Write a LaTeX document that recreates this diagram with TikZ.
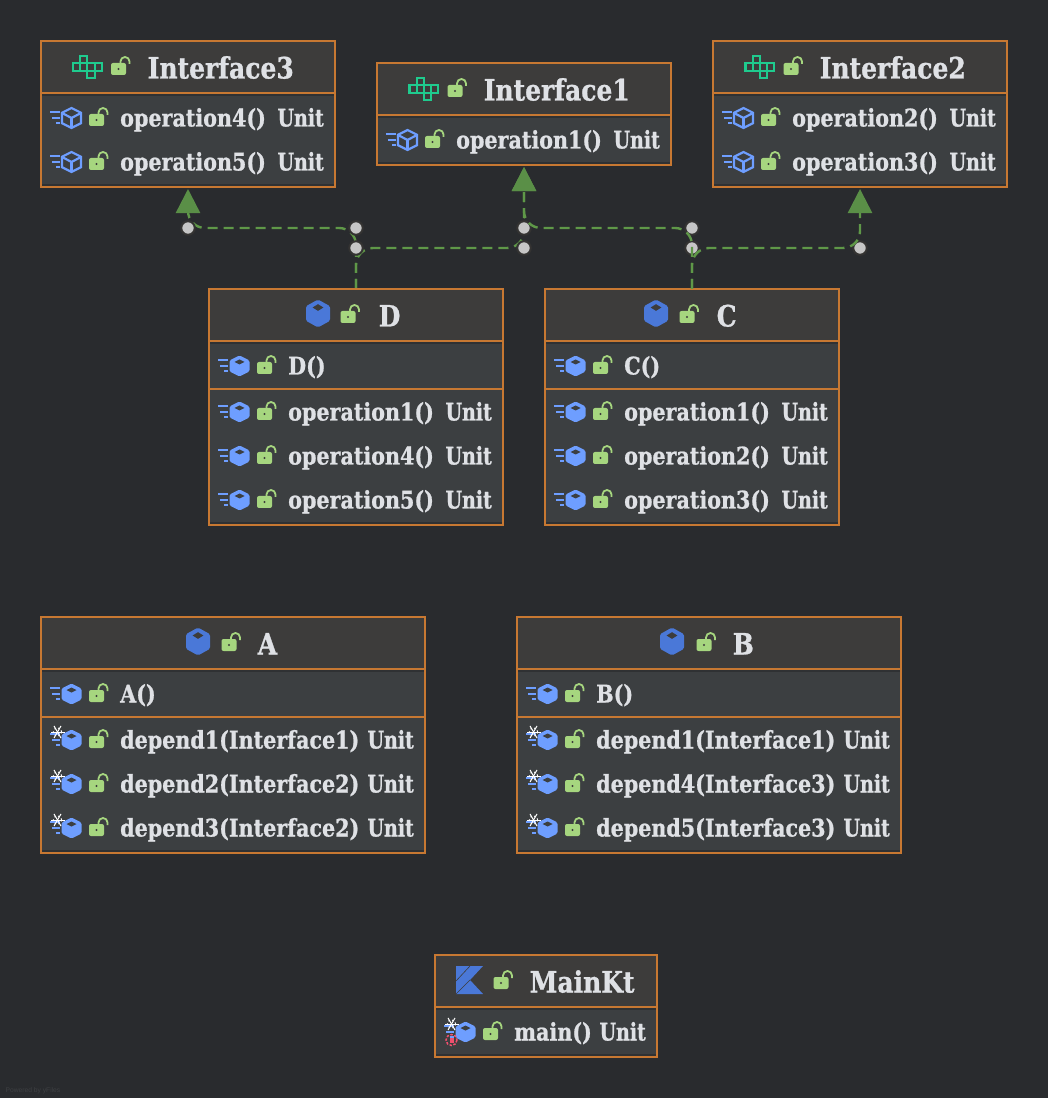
\documentclass[tikz,border=0pt]{standalone}
\usepackage{fontspec}
\setmainfont{DejaVu Serif}[FakeStretch=0.85,BoldFeatures={FakeBold=0.9}]
\newfontfamily\unitfont{DejaVu Serif}[FakeStretch=0.78,BoldFeatures={FakeBold=0.9}]
\setsansfont{Liberation Sans}
\usetikzlibrary{arrows.meta, backgrounds}
\definecolor{canvas}{HTML}{292B2E}
\definecolor{headfill}{HTML}{3D3C3B}
\definecolor{bodyfill}{HTML}{3C3F41}
\definecolor{stripe}{HTML}{2F3133}
\definecolor{boxline}{HTML}{C77832}
\definecolor{edgeline}{HTML}{5F9848}
\definecolor{edgetip}{HTML}{5A8F47}
\definecolor{labeltext}{HTML}{DFE1E5}
\definecolor{lockgreen}{HTML}{A6D67F}
\definecolor{ifacegreen}{HTML}{1FCB8E}
\definecolor{classblue}{HTML}{4A78D8}
\definecolor{methodblue}{HTML}{6E9EFF}
\definecolor{debugred}{HTML}{F0506E}
\begin{document}
\begin{tikzpicture}[x=0.01cm,y=-0.01cm,
	classbox/.style={draw=boxline,fill=stripe,line width=0.024cm,inner sep=0pt,outer sep=0pt},
	boxrule/.style={draw=boxline,line width=0.024cm},
	headtext/.style={anchor=base west,xshift=-0.01cm,inner sep=0pt,text=labeltext,font=\fontsize{8.37}{10}\selectfont\bfseries},
	rowtext/.style={anchor=base west,inner sep=0pt,text=labeltext,font=\fontsize{6.91}{8}\selectfont\bfseries},
	unittext/.style={anchor=base east,inner sep=0pt,text=labeltext,font=\fontsize{6.91}{8}\selectfont\unitfont\bfseries},
	bendpoint/.style={circle,fill=gray!45!white,draw=black!15!headfill,line width=0.02cm,minimum size=0.135cm,inner sep=0pt},
	relation/.style={draw=edgeline,line width=0.024cm,dash pattern=on 0.1cm off 0.06cm,rounded corners=0.17cm,
		-{Triangle[width=0.24cm,length=0.24cm,fill=edgetip,color=edgetip]},shorten >=0.02cm}]
	%Icons
	\newcommand{\iconlock}[2]{
		\begin{scope}[shift={(#1,#2)}]
			\draw[lockgreen,line width=0.018cm] (2,-5) -- (2,-7.5) arc (180:360:4.5) -- (11,-5);
			\fill[lockgreen,rounded corners=0.02cm] (-7.5,-6) rectangle (7.5,6);
			\fill[headfill] (0,0) circle (1.2);
		\end{scope}
	}
	\newcommand{\iconinterface}[2]{
		\begin{scope}[shift={(#1,#2)},ifacegreen,line width=0.021cm]
			\draw (-7.3,-11) rectangle (-0.1,-3.7);
			\foreach \cx in {-14.5,-7.3,-0.1,7.1} {
				\draw (\cx,-3.7) rectangle ({\cx+7.2},3.6);
			}
			\draw (-0.1,3.6) rectangle (7.1,11);
		\end{scope}
	}
	\newcommand{\hexpath}{(0,-10.5) -- (10,-5.5) -- (10,5.5) -- (0,10.5) -- (-10,5.5) -- (-10,-5.5) -- cycle}
	\newcommand{\iconclass}[2]{
		\begin{scope}[shift={(#1,#2)},xscale=1.2,yscale=1.33]
			\fill[classblue,rounded corners=0.015cm] \hexpath;
			\fill[headfill] (0,-7) -- (4.5,-4.5) -- (0,-2) -- (-4.5,-4.5) -- cycle;
		\end{scope}
	}
	\newcommand{\iconspeed}[2]{
		\begin{scope}[shift={(#1,#2)},methodblue,line width=0.02cm]
			\draw (-21.5,-6) -- (-11.5,-6);
			\draw (-19.5,0) -- (-11.5,0);
			\draw (-15.5,5) -- (-11.5,5);
		\end{scope}
	}
	\newcommand{\iconcube}[2]{
		\iconspeed{#1}{#2}
		\begin{scope}[shift={(#1,#2)},methodblue,line width=0.022cm]
			\draw [scale=0.95] \hexpath;
			\draw (-9.5,-5) -- (0,0) -- (9.5,-5);
			\draw (0,0) -- (0,10);
		\end{scope}
	}
	\newcommand{\iconmethod}[2]{
		\iconspeed{#1}{#2}
		\begin{scope}[shift={(#1,#2)}]
			\fill[methodblue,rounded corners=0.015cm] \hexpath;
			\fill[bodyfill] (0,-6.5) -- (5,-4) -- (0,-1.5) -- (-5,-4) -- cycle;
		\end{scope}
	}
	\newcommand{\iconstatic}[2]{
		\iconmethod{#1}{#2}
		\begin{scope}[shift={(#1-14,#2-8)},white,line width=0.01cm]
			\foreach \ang in {0,60,120} {
				\draw (\ang:7) -- (\ang+180:7);
			}
			\draw[dash pattern=on 0.015cm off 0.025cm] (0,0) circle (4.2);
		\end{scope}
	}
	\newcommand{\iconmain}[2]{
		\iconstatic{#1}{#2}
		\begin{scope}[shift={(#1-14,#2+8)}]
			\draw[debugred,line width=0.015cm,dash pattern=on 0.025cm off 0.015cm] (0,0) circle (5.5);
			\fill[debugred] (-2,-2.5) rectangle (2,2.5);
		\end{scope}
	}
	%Rows and boxes
	\newcommand{\umlclass}[6]{
		\node [classbox,minimum width={(#4-#2)*0.01cm},minimum height={(#6-#3)*0.01cm}] (#1) at ({(#2+#4)/2},{(#3+#6)/2}) {};
		\fill[headfill] (#2+1,#3+1) rectangle (#4-1,#5);
		\fill[bodyfill] (#2+1,#5+3) rectangle (#4-1,#6-3);
		\draw[boxrule] (#2,#5) -- (#4,#5);
	}
	\newcommand{\umlrow}[5]{
		#1{#2+30.5}{#3}
		\iconlock{#2+55.5}{#3+2}
		\node [rowtext] (#4) at (#2+78.5,#3+8.5) {#5};
	}
	\newcommand{\umlunit}[3]{
		\node [unittext] (#2) at (#1-10.5,#3+8.5) {Unit};
	}
	%Background
	\useasboundingbox (0,0) rectangle (1048,1098);
	\begin{scope}[on background layer]
		\fill[canvas] (0,0) rectangle (1048,1098);
	\end{scope}
	%Interface3
	\umlclass{interfaceThree}{41}{41}{335}{93}{187}
	\iconinterface{87.5}{67}
	\iconlock{118.5}{69}
	\node [headtext] (interfaceThreeName) at (148,78.5) {Interface3};
	\foreach \y/\nm/\txt in {118/opFourA/{operation4()},162/opFiveA/{operation5()}} {
		\umlrow{\iconcube}{41}{\y}{\nm}{\txt}
		\umlunit{335}{\nm Unit}{\y}
	}
	%Interface1
	\umlclass{interfaceOne}{377}{63}{671}{115}{165}
	\iconinterface{424}{89}
	\iconlock{455}{91}
	\node [headtext] (interfaceOneName) at (484,100.5) {Interface1};
	\umlrow{\iconcube}{377}{140}{opOneA}{operation1()}
	\umlunit{671}{opOneAUnit}{140}
	%Interface2
	\umlclass{interfaceTwo}{713}{41}{1007}{93}{187}
	\iconinterface{760}{67}
	\iconlock{791}{69}
	\node [headtext] (interfaceTwoName) at (820,78.5) {Interface2};
	\foreach \y/\nm/\txt in {118/opTwoA/{operation2()},162/opThreeA/{operation3()}} {
		\umlrow{\iconcube}{713}{\y}{\nm}{\txt}
		\umlunit{1007}{\nm Unit}{\y}
	}
	%Class D
	\umlclass{classD}{209}{289}{503}{341}{525}
	\draw[boxrule] (209,389) -- (503,389);
	\iconclass{318}{313.5}
	\iconlock{348}{317}
	\node [headtext] (classDName) at (379,326.5) {D};
	\umlrow{\iconmethod}{209}{366}{ctorD}{D()}
	\foreach \y/\nm/\txt in {412/opOneD/{operation1()},456/opFourD/{operation4()},500/opFiveD/{operation5()}} {
		\umlrow{\iconmethod}{209}{\y}{\nm}{\txt}
		\umlunit{503}{\nm Unit}{\y}
	}
	%Class C
	\umlclass{classC}{545}{289}{839}{341}{525}
	\draw[boxrule] (545,389) -- (839,389);
	\iconclass{656}{313.5}
	\iconlock{687}{317}
	\node [headtext] (classCName) at (717,326.5) {C};
	\umlrow{\iconmethod}{545}{366}{ctorC}{C()}
	\foreach \y/\nm/\txt in {412/opOneC/{operation1()},456/opTwoC/{operation2()},500/opThreeC/{operation3()}} {
		\umlrow{\iconmethod}{545}{\y}{\nm}{\txt}
		\umlunit{839}{\nm Unit}{\y}
	}
	%Class A
	\umlclass{classA}{41}{617}{425}{669}{853}
	\draw[boxrule] (41,717) -- (425,717);
	\iconclass{198}{641.5}
	\iconlock{229}{645}
	\node [headtext] (classAName) at (258,654.5) {A};
	\umlrow{\iconmethod}{41}{694}{ctorA}{A()}
	\foreach \y/\nm/\txt in {740/dependOneA/{depend1(Interface1)},784/dependTwoA/{depend2(Interface2)},828/dependThreeA/{depend3(Interface2)}} {
		\umlrow{\iconstatic}{41}{\y}{\nm}{\txt}
		\umlunit{425}{\nm Unit}{\y}
	}
	%Class B
	\umlclass{classB}{517}{617}{901}{669}{853}
	\draw[boxrule] (517,717) -- (901,717);
	\iconclass{672}{641.5}
	\iconlock{704}{645}
	\node [headtext] (classBName) at (733,654.5) {B};
	\umlrow{\iconmethod}{517}{694}{ctorB}{B()}
	\foreach \y/\nm/\txt in {740/dependOneB/{depend1(Interface1)},784/dependFourB/{depend4(Interface3)},828/dependFiveB/{depend5(Interface3)}} {
		\umlrow{\iconstatic}{517}{\y}{\nm}{\txt}
		\umlunit{901}{\nm Unit}{\y}
	}
	%MainKt
	\umlclass{mainKt}{435}{955}{657}{1007}{1057}
	\fill[classblue] (456,966) -- (483,966) -- (470,980) -- (483,994) -- (456,994) -- cycle;
	\draw[headfill,line width=0.006cm] (456,981) -- (470,966);
	\draw[headfill,line width=0.006cm] (456,994) -- (470,980);
	\iconlock{501}{983}
	\node [headtext] (mainKtName) at (530,992.5) {MainKt};
	\umlrow{\iconmain}{435}{1032}{mainFun}{main()}
	\umlunit{657}{mainFunUnit}{1032}
	%Bends of the edges
	\node [bendpoint] (bendA) at (188,228) {};
	\node [bendpoint] (bendB) at (356,228) {};
	\node [bendpoint] (bendC) at (356,248) {};
	\node [bendpoint] (bendD) at (524,228) {};
	\node [bendpoint] (bendE) at (524,248) {};
	\node [bendpoint] (bendF) at (692,228) {};
	\node [bendpoint] (bendG) at (692,248) {};
	\node [bendpoint] (bendH) at (860,248) {};
	%Edges of D run under the bends, edges of C over them
	\begin{scope}[on background layer]
		\draw[relation] (classD.north) -- (bendB.center) -- (bendA.center) -- (interfaceThree.south);
		\draw[relation] (classD.north) -- (bendC.center) -- (bendE.center) -- (interfaceOne.south);
	\end{scope}
	\draw[relation] (classC.north) -- (bendF.center) -- (bendD.center) -- (interfaceOne.south);
	\draw[relation] (classC.north) -- (bendG.center) -- (bendH.center) -- (interfaceTwo.south);
	%Watermark
	\node [anchor=base west,inner sep=0pt,text=white!10!canvas,font=\fontsize{1.9}{2}\selectfont\sffamily] (poweredBy) at (5,1092) {Powered by yFiles};
\end{tikzpicture}
\end{document}
